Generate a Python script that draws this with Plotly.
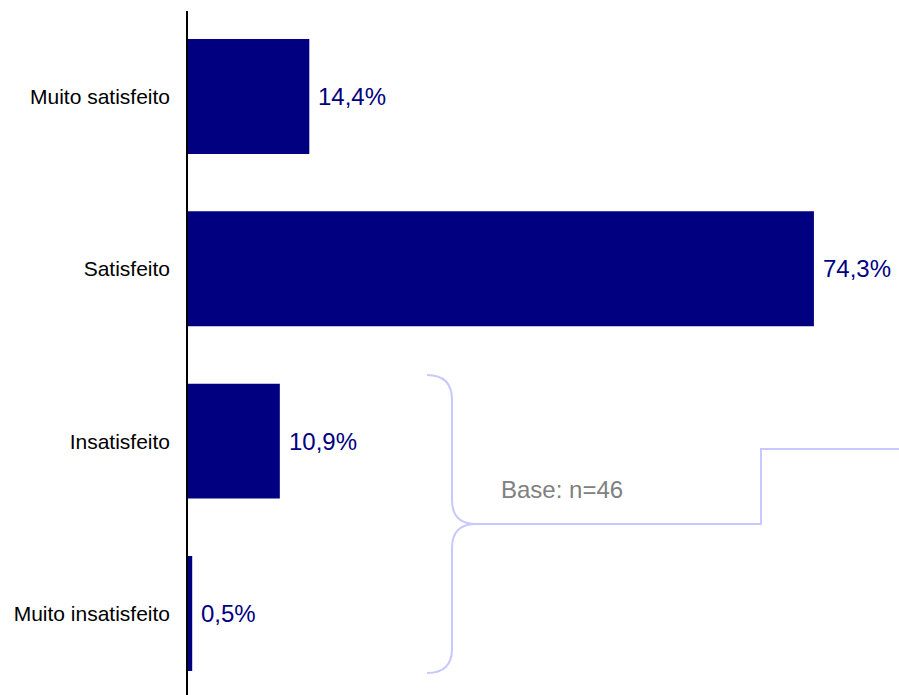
import plotly.graph_objects as go

categories = ["Muito satisfeito", "Satisfeito", "Insatisfeito", "Muito insatisfeito"]
values = [14.4, 74.3, 10.9, 0.5]
value_labels = ["14,4%", "74,3%", "10,9%", "0,5%"]
base_note = "Base: n=46"

W, H = 899, 695
L, R, T, B = 188, 0, 11, 0

def px(x):
    return (x - L) / (W - L - R)

def py(y):
    return (H - B - y) / (H - T - B)

FONT = "Liberation Sans, Arial, Helvetica, sans-serif"
NAVY = "#000080"

fig = go.Figure()
fig.add_trace(go.Bar(
    x=values, y=categories, orientation="h",
    marker=dict(color=NAVY, line=dict(width=0)),
    hoverinfo="skip",
))

for c, v, t in zip(categories, values, value_labels):
    fig.add_annotation(x=v, y=c, xref="x", yref="y", text=t, showarrow=False,
                       xanchor="left", yanchor="middle", xshift=7,
                       font=dict(family=FONT, size=24, color=NAVY))

# brace + connector (drawn in paper space)
pts = [
    ("M", 427, 375), ("Q", 452, 375, 452, 400), ("L", 452, 500), ("Q", 452, 524, 476, 524),
    ("L", 761, 524), ("L", 761, 449), ("L", 899, 449),
    ("M", 476, 524), ("Q", 452, 524, 452, 548), ("L", 452, 649), ("Q", 452, 673, 427, 673),
]
path = ""
for p in pts:
    cmd = p[0]
    coords = p[1:]
    s = []
    for i in range(0, len(coords), 2):
        s.append(f"{px(coords[i]):.5f},{py(coords[i+1]):.5f}")
    path += cmd + " " + " ".join(s) + " "
fig.add_shape(type="path", path=path.strip(), xref="paper", yref="paper",
              line=dict(color="#c8c8ff", width=2))

fig.add_annotation(x=px(499), y=py(490), xref="paper", yref="paper", text=base_note,
                   showarrow=False, xanchor="left", yanchor="middle",
                   font=dict(family=FONT, size=24, color="#808080"))

fig.update_layout(
    width=W, height=H,
    margin=dict(l=L, r=R, t=T, b=B),
    paper_bgcolor="white", plot_bgcolor="white",
    showlegend=False, bargap=0.333,
    xaxis=dict(range=[0, 84.4], visible=False, fixedrange=True),
    yaxis=dict(categoryorder="array", categoryarray=categories,
               range=[3.473, -0.496], showline=True, linecolor="black", linewidth=1.5,
               showgrid=False, zeroline=False, ticks="", ticklabelstandoff=12,
               tickfont=dict(family=FONT, size=21, color="black")),
    font=dict(family=FONT),
)

fig.write_html("out.html", config={"displayModeBar": False},
               post_script="document.body.style.margin='0';document.body.style.overflow='hidden';")
